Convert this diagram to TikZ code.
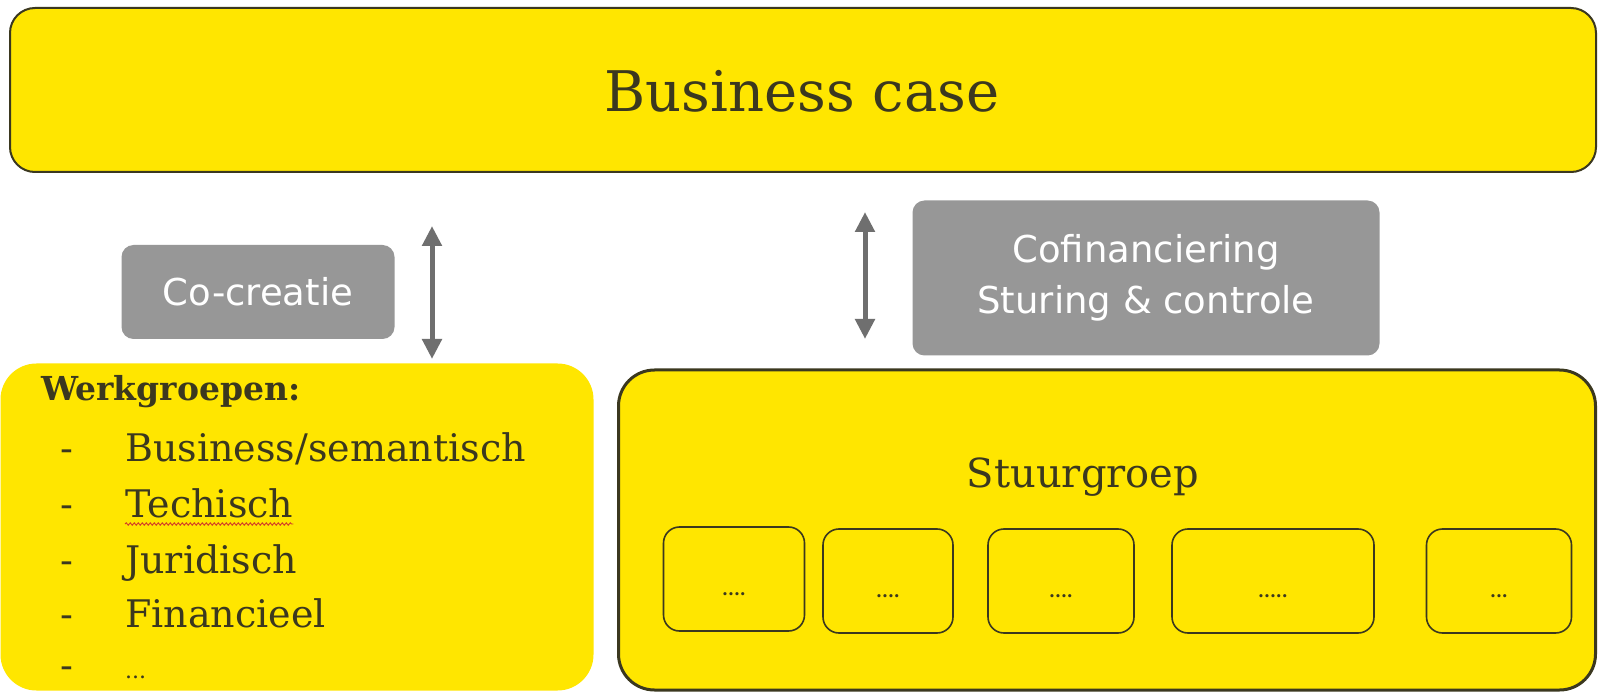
\documentclass[tikz,border=0pt]{standalone}
\usepackage{fontspec}
\setmainfont{DejaVu Serif}
\newfontfamily\greyfont{DejaVu Sans}
\usetikzlibrary{arrows.meta, positioning, decorations.pathmorphing}
\definecolor{caseYellow}{HTML}{FFE600}
\definecolor{darkText}{HTML}{3B381F}
\definecolor{boxGrey}{HTML}{979797}
\definecolor{arrowGrey}{HTML}{6F6F6F}
\definecolor{spellRed}{HTML}{D23A2A}
\tikzset{
  yellowbox/.style={fill=caseYellow, rounded corners=#1, inner sep=0pt},
  yellowbox/.default=25pt,
  greybox/.style={fill=boxGrey, rounded corners=12pt, inner sep=0pt, text=white, align=center, font=\greyfont\fontsize{37}{51}\selectfont},
  memberbox/.style={draw=darkText, line width=1.6pt, fill=caseYellow, rounded corners=16pt, inner sep=0pt, minimum height=104pt, text height=32pt, text depth=0pt, font=\bfseries\fontsize{17}{18}\selectfont, text=darkText},
  listtext/.style={anchor=base west, text=darkText, inner sep=0pt, font=\fontsize{38}{40}\selectfont},
  linkarr/.style={{Triangle[length=20pt, width=19pt]}-{Triangle[length=20pt, width=19pt]}, arrowGrey, line width=5pt},
}
\begin{document}
\begin{tikzpicture}[x=1pt, y=-1pt]
    \useasboundingbox[fill=white] (0,0) rectangle (1598,692);
    % top level
    \node[yellowbox, draw=darkText, line width=2pt, minimum width=1586pt, minimum height=164pt] (case) at (803,90) {};
    \node[anchor=base, text=darkText, inner sep=0pt, font=\fontsize{56}{60}\selectfont] (casetitle) at (802,112) {Business case};
    % relations
    \node[greybox, minimum width=273pt, minimum height=94pt] (cocreatie) at (258,292) {Co-creatie};
    \node[greybox, minimum width=467pt, minimum height=155pt] (cofin) at (1146,278)
      {Cofinanciering\\Sturing \& controle};
    \coordinate (lefttop) at (432,226); \coordinate (leftbot) at (432,359);
    \coordinate (righttop) at (865,212); \coordinate (rightbot) at (865,339);
    \draw[linkarr] (lefttop)--(leftbot); \draw[linkarr] (righttop)--(rightbot);
    % werkgroepen
    \node[yellowbox=36pt, minimum width=593pt, minimum height=327pt] (werk) at (297,527) {};
    \node[listtext, font=\bfseries\fontsize{33}{40}\selectfont] (werktitle) at (41,400) {Werkgroepen:};
    \node[listtext] (w1) at (125,461) {Business/semantisch};
    \node[listtext] (w2) at (125,517) {Techisch};
    \node[listtext] (w3) at (125,573) {Juridisch};
    \node[listtext] (w4) at (125,627) {Financieel};
    \node[listtext] (w5) at (125,678) {\fontsize{22}{24}\selectfont ...};
    \foreach \y in {461,517,573,627,678}
      \node[listtext] at (60,\y) {-};
    \draw[spellRed, line width=0.9pt, decorate, decoration={snake, amplitude=1.2pt, segment length=4pt}]
      ([yshift=-7pt]w2.base west)--([yshift=-7pt]w2.base east);
    % stuurgroep
    \node[yellowbox=36pt, draw=darkText, line width=3pt, minimum width=977pt, minimum height=320pt] (stuur) at (1107,530) {};
    \node[anchor=base, text=darkText, inner sep=0pt, font=\fontsize{40}{46}\selectfont] (stuurtitle) at (1083,487) {Stuurgroep};
    \node[memberbox, minimum width=141pt] (m1) at (734,579) {....};
    \node[memberbox, minimum width=130pt] (m2) at (888,581) {....};
    \node[memberbox, minimum width=146pt] (m3) at (1061,581) {....};
    \node[memberbox, minimum width=202pt] (m4) at (1273,581) {.....};
    \node[memberbox, minimum width=145pt] (m5) at (1499,581) {...};
  \end{tikzpicture}
\end{document}
